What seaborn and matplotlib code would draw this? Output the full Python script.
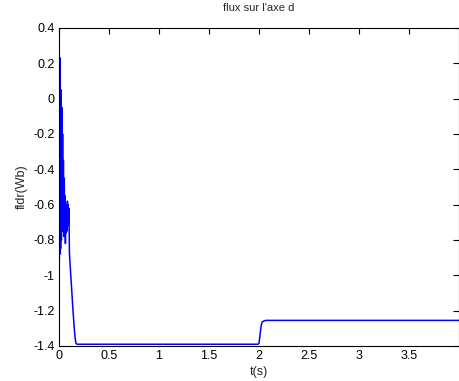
import matplotlib
matplotlib.use("Agg")
import matplotlib.pyplot as plt
import pandas as pd
import seaborn as sns

# time (s) and flux (Wb)
t_s = [0.000, 0.003, 0.006, 0.009, 0.012, 0.016, 0.020, 0.024, 0.028, 0.032,
       0.036, 0.040, 0.044, 0.048, 0.052, 0.056, 0.060, 0.064, 0.068, 0.072,
       0.076, 0.080, 0.084, 0.088, 0.092, 0.096, 0.100, 0.104, 0.110, 0.120,
       0.130, 0.140, 0.150, 0.160, 0.170, 0.180, 0.190, 0.500, 1.000, 1.500,
       1.990, 2.000, 2.010, 2.020, 2.030, 2.050, 2.070, 2.100, 3.000, 4.000]
flux_wb = [0.00, -0.92, 0.10, -0.88, 0.23, -0.85, 0.05, -0.80, -0.05, -0.75,
           -0.20, -0.70, -0.35, -0.78, -0.45, -0.65, -0.55, -0.82, -0.60, -0.76,
           -0.62, -0.75, -0.58, -0.72, -0.60, -0.70, -0.62, -0.87, -0.93, -1.02,
           -1.11, -1.20, -1.28, -1.35, -1.385, -1.39, -1.39, -1.39, -1.39, -1.39,
           -1.39, -1.385, -1.34, -1.29, -1.265, -1.258, -1.255, -1.255, -1.255, -1.255]

x_ticks = [0, 0.5, 1, 1.5, 2, 2.5, 3, 3.5]
x_tick_labels = ["0", "0.5", "1", "1.5", "2", "2.5", "3", "3.5"]
y_ticks = [-1.4, -1.2, -1, -0.8, -0.6, -0.4, -0.2, 0, 0.2, 0.4]
y_tick_labels = ["-1.4", "-1.2", "-1", "-0.8", "-0.6", "-0.4", "-0.2", "0", "0.2", "0.4"]

df = pd.DataFrame({"t": t_s, "flux": flux_wb})

sns.set_style("white")
plt.rcParams["font.family"] = ["Liberation Sans", "DejaVu Sans"]

fig = plt.figure(figsize=(4.59, 3.81), dpi=100)
ax = fig.add_axes([59 / 459, 35 / 381, 400 / 459, 318 / 381])

sns.lineplot(data=df, x="t", y="flux", ax=ax, color="#0000ff", linewidth=1.1,
             sort=False, estimator=None)

ax.set_xlim(0, 4)
ax.set_ylim(-1.4, 0.4)
ax.set_xticks(x_ticks)
ax.set_xticklabels(x_tick_labels)
ax.set_yticks(y_ticks)
ax.set_yticklabels(y_tick_labels)
ax.tick_params(direction="in", length=4, width=0.8, labelsize=9, colors="black",
               top=True, right=True, pad=3)
for s in ax.spines.values():
    s.set_color("black")
    s.set_linewidth(0.8)

ax.set_title("flux sur l'axe d", fontsize=8, pad=12)
ax.set_xlabel("t(s)", fontsize=9, labelpad=3)
ax.set_ylabel("fldr(Wb)", fontsize=9, labelpad=4)

fig.savefig("out.png", dpi=100)
